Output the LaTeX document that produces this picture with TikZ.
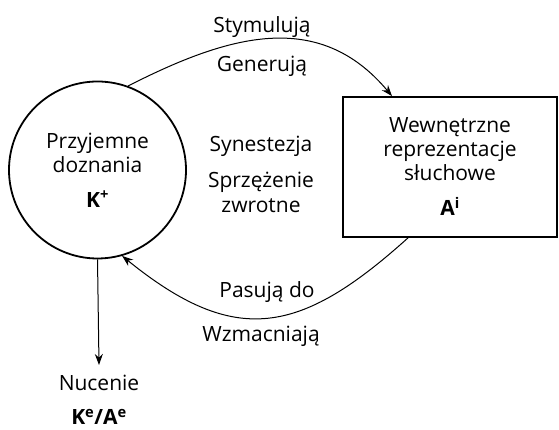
\documentclass[tikz,border=0pt]{standalone}
\usepackage{fontspec}
\setmainfont{Open Sans}
\usetikzlibrary{calc,positioning,arrows.meta}

\begin{document}
\begin{tikzpicture}[x=1pt,y=1pt,
		font=\fontsize{21}{24}\selectfont,
		lbl/.style={inner sep=0pt,align=center},
		arc/.style={line width=1pt,-{Stealth[length=11pt,width=8pt]}}]
			\useasboundingbox (0,0) rectangle (559,430);
			\node[draw,circle,line width=1.8pt,minimum size=177pt,lbl] at (97.5,260) (dozn)
				{Przyjemne\\doznania\\[11pt]\textbf{K\textsuperscript{+}}};
			\node[draw,rectangle,line width=1.8pt,minimum width=214pt,minimum height=140pt,lbl] at (450,263) (repr)
				{Wewnętrzne\\reprezentacje\\słuchowe\\[11pt]\textbf{A\textsuperscript{i}}};
			\node[lbl,anchor=base] at (262,397) (stym) {Stymulują};
			\node[lbl,anchor=base] at (262,358) (gen) {Generują};
			\node[lbl,anchor=base] at (261,278) (syn) {Synestezja};
			\node[lbl,anchor=base] at (261,242) (sprz) {Sprzężenie};
			\node[lbl,anchor=base] at (261,217) (zwr) {zwrotne};
			\node[lbl,anchor=base] at (267,132) (pas) {Pasują do};
			\node[lbl,anchor=base] at (261,88) (wzm) {Wzmacniają};
			\node[lbl,anchor=north] at (99,55) (nuc) {Nucenie\\[10pt]\textbf{K\textsuperscript{e}/A\textsuperscript{e}}};
			\coordinate (rtop) at ([xshift=-58pt]repr.north);
			\coordinate (rbot) at ([xshift=-42pt]repr.south);
			\draw[arc] (dozn.70) to[out=27,in=130,looseness=1.1] (rtop);
			\draw[arc] (rbot) to[out=222,in=-39,looseness=1.3] (dozn.286);
			\draw[arc] (dozn.south) -- ([yshift=10pt]nuc.north);
		\end{tikzpicture}
\end{document}
